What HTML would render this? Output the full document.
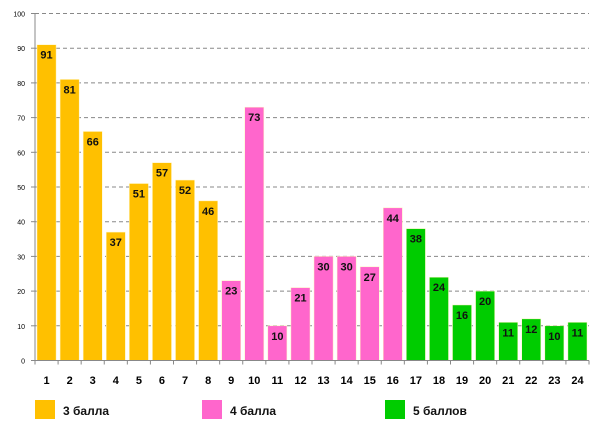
<!DOCTYPE html>
<html><head><meta charset="utf-8"><style>
body{margin:0;background:#fff;width:600px;height:430px;overflow:hidden;font-family:"Liberation Sans",sans-serif}
svg text{font-family:"Liberation Sans",sans-serif}
</style></head><body>
<svg id="chart" width="600" height="430"></svg>
<script>
const categories=["1","2","3","4","5","6","7","8","9","10","11","12","13","14","15","16","17","18","19","20","21","22","23","24"];
const values=[91,81,66,37,51,57,52,46,23,73,10,21,30,30,27,44,38,24,16,20,11,12,10,11];
const groups=[0,0,0,0,0,0,0,0,1,1,1,1,1,1,1,1,2,2,2,2,2,2,2,2];
const groupNames=["3 балла","4 балла","5 баллов"];
const yTicks=[0,10,20,30,40,50,60,70,80,90,100];
const colors=["#FFC000","#FF66CC","#00CC00"];
const NS="http://www.w3.org/2000/svg";
const svg=document.getElementById('chart');
const x0=35,x1=589,yb=360.5,yt=13.5;
const bw=(x1-x0)/categories.length;
const y=v=>yb-(v/100)*(yb-yt);
const xc=i=>x0+bw*i;
function mk(t,a,p){const e=document.createElementNS(NS,t);for(const k in a)e.setAttribute(k,a[k]);(p||svg).appendChild(e);return e;}
yTicks.forEach(t=>{
  if(t>0){const g=mk('line',{x1:x0,x2:x1,y1:y(t),y2:y(t),stroke:'#888','stroke-dasharray':'4,3','stroke-width':1});
  
  }
  mk('line',{x1:x0-4,x2:x0,y1:y(t),y2:y(t),stroke:'#888'});
  const l=mk('text',{x:x0-10,y:y(t)+3,'font-size':7,'text-anchor':'end',fill:'#000'});l.textContent=t;
  
  
});
values.forEach((v,i)=>{
  const r=mk('rect',{x:xc(i)+2,y:y(v),width:bw-4,height:yb-y(v),fill:colors[groups[i]],stroke:'#fff5c0','stroke-width':0.5});
  
  
  const t=mk('text',{x:xc(i)+bw/2,y:y(v)+14,'font-size':11,'font-weight':'bold','text-anchor':'middle',fill:'#111'});t.textContent=v;
  
  
  const c=mk('text',{x:xc(i)+bw/2,y:384,'font-size':11,'font-weight':'bold','text-anchor':'middle',fill:'#000'});c.textContent=categories[i];
  
  
});
for(let i=0;i<=categories.length;i++){mk('line',{x1:xc(i),x2:xc(i),y1:yb,y2:yb+4,stroke:'#888'});}
const ax=mk('line',{x1:x0,x2:x0,y1:yt,y2:yb,stroke:'#888'});


const axx=mk('line',{x1:x0,x2:x1,y1:yb,y2:yb,stroke:'#888'});


const lx=[35,202,385];
groupNames.forEach((n,i)=>{
  const s=mk('rect',{x:lx[i],y:400,width:20,height:19,fill:colors[i]});
  
  
  const t=mk('text',{x:lx[i]+28,y:415,'font-size':12,'font-weight':'bold',fill:'#111'});t.textContent=n;
  
  
});
</script>
</body></html>
